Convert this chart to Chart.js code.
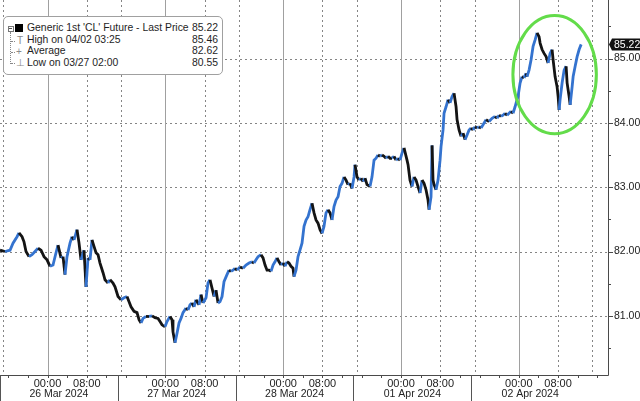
<!DOCTYPE html>
<html lang="en">
<head>
<meta charset="UTF-8">
<title>Generic 1st 'CL' Future - Last Price</title>
<script src="https://cdn.jsdelivr.net/npm/chart.js"></script>
<style>
  body { margin: 0; background: #fff; }
  #wrap { position: relative; width: 640px; height: 401px; }
  #legend {
    position: absolute; left: 3px; top: 16px; width: 218px; height: 57px;
    border: 1px solid #a0a0a0; border-radius: 5px; background: #fff;
    font: 10.4px "Liberation Sans", Arial, sans-serif; color: #1e1e1e;
  }
  .row { position: absolute; left: 23px; right: 4px; height: 12px; line-height: 12px; white-space: nowrap; }
  .row .v { position: absolute; right: 0; top: 0; }
  .ico { position: absolute; color: #8a8a8a; font-size: 10px; line-height: 12px; }
</style>
</head>
<body>
<div id="wrap">
  <canvas id="chart" width="640" height="401"></canvas>
  <div id="legend"></div>
</div>
<script>
// time axis: hours on the trading timeline, 0 = 26 Mar 00:00 (weekend + holiday skipped)
const hours = [
  -9.68, -8.66, -7.64, -7.03, -6.21, -5.81, -5.19, -4.79, -4.38, -3.77,
  -3.16, -2.55, -1.94, -1.32, -0.71, -0.10, 0.51, 1.12, 1.73, 2.14,
  2.75, 3.16, 3.56, 3.97, 4.58, 4.99, 5.40, 6.01, 6.42, 6.82,
  7.44, 7.84, 8.25, 8.66, 9.06, 9.47, 9.88, 10.29, 10.69, 11.31,
  11.71, 12.32, 12.73, 13.34, 13.75, 14.36, 14.97, 15.58, 16.19, 17.01,
  17.62, 18.23, 18.64, 19.05, 19.45, 20.06, 20.68, 21.29, 21.90, 22.51,
  22.92, 23.32, 23.93, 24.34, 24.95, 25.36, 25.56, 25.97, 26.38, 26.79,
  27.19, 27.60, 28.21, 28.62, 29.03, 29.43, 29.84, 30.25, 30.86, 31.27,
  31.67, 32.29, 32.69, 33.10, 33.51, 33.92, 34.32, 34.73, 35.14, 35.55,
  35.95, 36.56, 36.97, 37.38, 37.79, 38.19, 38.60, 39.21, 39.82, 40.43,
  41.05, 41.66, 42.06, 42.47, 42.88, 43.49, 43.90, 44.31, 44.71, 45.12,
  45.53, 45.94, 46.34, 46.75, 47.16, 47.57, 47.97, 48.38, 48.79, 49.19,
  49.60, 50.01, 50.21, 50.62, 51.03, 51.43, 51.84, 52.25, 52.66, 53.06,
  53.47, 53.88, 54.29, 54.69, 55.10, 55.51, 55.92, 56.32, 56.73, 57.14,
  57.55, 57.95, 58.36, 58.77, 59.18, 59.58, 59.99, 60.40, 60.81, 61.21,
  61.62, 62.03, 62.44, 62.64, 63.05, 63.45, 63.86, 64.27, 64.68, 65.08,
  65.69, 66.10, 66.51, 66.92, 67.32, 67.73, 68.14, 68.55, 68.95, 69.36,
  69.77, 70.17, 70.58, 70.99, 71.40, 71.80, 72.21, 72.62, 72.82, 73.23,
  73.44, 73.84, 74.25, 74.66, 75.07, 75.47, 75.88, 76.29, 76.70, 77.10,
  77.51, 77.72, 78.12, 78.33, 78.53, 78.74, 79.14, 79.55, 79.96, 80.16,
  80.57, 80.77, 81.18, 81.59, 81.99, 82.40, 82.81, 83.22, 83.42, 83.83,
  84.24, 84.65, 85.05, 85.46, 85.87, 86.27, 86.68, 87.09, 87.50, 87.90,
  88.31, 88.72, 89.33, 89.94, 90.55, 91.16, 91.57, 91.98, 92.38, 92.79,
  93.20, 93.61, 94.01, 94.42, 94.83, 95.24, 95.64, 95.85, 96.26, 96.66,
  97.07, 97.48, 97.68, 98.09, 98.50, 98.91, 99.32, 99.72, 100.13, 100.34,
  100.74, 101.15, 101.56, 101.97, 102.37, 102.78, 102.99, 103.39, 103.80, 104.01,
  104.21, 104.41, 104.82, 105.23, 105.64, 105.84, 106.25, 106.46, 106.86, 107.07,
  107.48, 107.88, 108.29, 108.70
];
const prices = [
  82.02, 82.00, 82.02, 82.13, 82.23, 82.29, 82.23, 82.15, 82.00, 81.92,
  81.95, 82.00, 82.05, 82.02, 81.92, 81.87, 81.77, 81.79, 81.98, 82.10,
  81.90, 81.92, 81.64, 81.92, 82.13, 82.23, 82.18, 82.34, 82.13, 81.87,
  82.02, 81.45, 81.90, 81.87, 82.18, 82.08, 81.98, 81.95, 81.82, 81.67,
  81.56, 81.51, 81.56, 81.51, 81.45, 81.30, 81.25, 81.28, 81.30, 81.14,
  81.07, 81.05, 80.94, 80.89, 80.96, 80.99, 80.99, 81.00, 80.97, 80.96,
  80.91, 80.86, 80.83, 80.91, 80.99, 80.94, 80.75, 80.58, 80.73, 80.89,
  80.96, 81.05, 81.12, 81.09, 81.17, 81.20, 81.14, 81.25, 81.17, 81.33,
  81.20, 81.28, 81.51, 81.56, 81.43, 81.30, 81.40, 81.20, 81.22, 81.30,
  81.53, 81.64, 81.71, 81.69, 81.71, 81.74, 81.71, 81.76, 81.74, 81.79,
  81.82, 81.84, 81.82, 81.87, 81.92, 81.95, 81.90, 81.79, 81.71, 81.71,
  81.69, 81.79, 81.84, 81.90, 81.84, 81.79, 81.82, 81.77, 81.84, 81.82,
  81.77, 81.74, 81.61, 81.71, 81.92, 82.02, 82.13, 82.39, 82.49, 82.54,
  82.65, 82.75, 82.60, 82.49, 82.44, 82.34, 82.28, 82.39, 82.60, 82.65,
  82.60, 82.49, 82.70, 82.80, 82.85, 83.01, 83.06, 83.16, 83.11, 83.04,
  83.06, 82.98, 83.16, 83.35, 83.16, 83.11, 83.14, 83.09, 83.14, 83.04,
  83.01, 83.16, 83.42, 83.45, 83.50, 83.48, 83.50, 83.48, 83.45, 83.48,
  83.45, 83.45, 83.48, 83.42, 83.45, 83.42, 83.53, 83.61, 83.55, 83.42,
  83.35, 83.11, 83.01, 83.16, 83.11, 83.01, 82.91, 83.11, 83.06, 82.96,
  82.80, 82.65, 82.85, 83.65, 83.11, 83.04, 82.96, 83.11, 83.42, 83.63,
  83.89, 84.15, 84.25, 84.36, 84.31, 84.41, 84.46, 84.25, 84.05, 83.89,
  83.79, 83.84, 83.74, 83.81, 83.89, 83.92, 83.89, 83.94, 83.92, 83.94,
  83.92, 83.97, 84.05, 84.02, 84.07, 84.10, 84.07, 84.12, 84.10, 84.12,
  84.15, 84.12, 84.15, 84.18, 84.15, 84.25, 84.36, 84.41, 84.62, 84.72,
  84.70, 84.77, 84.72, 84.82, 84.98, 85.19, 85.29, 85.40, 85.34, 85.24,
  85.14, 85.08, 85.03, 84.93, 85.08, 85.14, 84.98, 84.72, 84.56, 84.41,
  84.20, 84.36, 84.62, 84.82, 84.88, 84.62, 84.41, 84.28, 84.56, 84.72,
  84.88, 85.03, 85.14, 85.22
];

const dayStarts = [0, 24, 48, 72, 96];           // 00:00 of each trading day
const dayLabels = ['26 Mar 2024', '27 Mar 2024', '28 Mar 2024', '01 Apr 2024', '02 Apr 2024'];
const sessionBreaks = [-9.68, 14.32, 38.32, 62.32, 86.32, 110.32];
const yTicks = [81, 82, 83, 84, 85];
const lastPrice = 85.22;

const legendLabels = ["Generic 1st 'CL' Future - Last Price", 'High on 04/02 03:25', 'Average', 'Low on 03/27 02:00'];
const legendValues = ['85.22', '85.46', '82.62', '80.55'];

// highlight ellipse, in data units: centre hour, centre price, half-width (h), half-height (price)
const circleSpot = [103.3, 84.75, 8.5, 0.92];

const FONT = '"Liberation Sans", Arial, sans-serif';
const upColor = '#3473cf';
const downColor = '#141414';

// legend (html)
const legend = document.getElementById('legend');
let html = '';
legendLabels.forEach((t, i) => {
  html += `<div class="row" style="top:${5 + i * 11.7}px"><span>${t}</span><span class="v">${legendValues[i]}</span></div>`;
});
html += '<div style="position:absolute;left:4px;top:9px;width:4px;height:4px;border:1px solid #777"></div>';
html += '<div style="position:absolute;left:5px;top:11px;width:3px;height:1px;background:#555"></div>';
html += '<div style="position:absolute;left:11px;top:7px;width:8px;height:8px;background:#000"></div>';
html += '<div style="position:absolute;left:6px;top:15px;height:32px;border-left:1px dotted #888"></div>';
[23.7, 35.3, 46.3].forEach(c => {
  html += `<div style="position:absolute;left:7px;top:${c}px;width:4px;border-top:1px dotted #888"></div>`;
});
html += '<span class="ico" style="left:13px;top:17.7px">T</span>';
html += '<span class="ico" style="left:12px;top:29.3px">+</span>';
html += '<span class="ico" style="left:12px;top:40.3px">&#8869;</span>';
legend.innerHTML = html;

const bbg = {
  id: 'bbg',
  beforeDatasetsDraw(chart) {
    const { ctx, chartArea: a, scales: { x, y } } = chart;
    ctx.save();
    ctx.lineWidth = 1;
    // dotted price grid
    ctx.strokeStyle = '#858585';
    ctx.setLineDash([2, 3]);
    yTicks.forEach(v => {
      const py = Math.round(y.getPixelForValue(v)) + 0.5;
      ctx.beginPath(); ctx.moveTo(a.left, py); ctx.lineTo(a.right, py); ctx.stroke();
    });
    // dotted time grid at 08:00 and 15:00
    const minor = [-9];
    dayStarts.forEach(d => minor.push(d + 8, d + 15));
    minor.forEach(h => {
      const px = Math.round(x.getPixelForValue(h)) + 0.5;
      if (px < a.left || px > a.right) return;
      ctx.beginPath(); ctx.moveTo(px, a.top); ctx.lineTo(px, a.bottom); ctx.stroke();
    });
    // solid midnight lines
    ctx.setLineDash([]);
    ctx.strokeStyle = '#a0a0a0';
    dayStarts.forEach(h => {
      const px = Math.round(x.getPixelForValue(h)) + 0.5;
      ctx.beginPath(); ctx.moveTo(px, a.top); ctx.lineTo(px, a.bottom); ctx.stroke();
    });
    ctx.restore();
  },
  afterDatasetsDraw(chart) {
    const { ctx, chartArea: a, scales: { x, y } } = chart;
    ctx.save();
    // green highlight
    const [ch, cp, rh, rp] = circleSpot;
    const cx = x.getPixelForValue(ch), cy = y.getPixelForValue(cp);
    const rx = x.getPixelForValue(ch + rh) - cx, ry = cy - y.getPixelForValue(cp + rp);
    ctx.strokeStyle = '#63dc4a';
    ctx.lineWidth = 3;
    ctx.beginPath(); ctx.ellipse(cx, cy, rx, ry, 0, 0, Math.PI * 2); ctx.stroke();

    // axis lines
    ctx.strokeStyle = '#4a4a4a';
    ctx.lineWidth = 1;
    ctx.beginPath();
    ctx.moveTo(a.left, a.bottom + 0.5); ctx.lineTo(a.right + 0.5, a.bottom + 0.5);
    ctx.moveTo(a.right + 0.5, a.top); ctx.lineTo(a.right + 0.5, a.bottom + 0.5);
    ctx.stroke();

    // price ticks on the right
    ctx.beginPath();
    for (let v = 80.5; v <= 85.5; v += 0.5) {
      const py = Math.round(y.getPixelForValue(v)) + 0.5;
      ctx.moveTo(a.right, py); ctx.lineTo(a.right + (Number.isInteger(v) ? 5 : 3), py);
    }
    // small time ticks every 4h
    for (let h = -8; h <= 112; h += 4) {
      const px = Math.round(x.getPixelForValue(h)) + 0.5;
      if (px > a.right) break;
      ctx.moveTo(px, a.bottom); ctx.lineTo(px, a.bottom + 3);
    }
    ctx.stroke();

    // session separators + date labels
    ctx.strokeStyle = '#555';
    ctx.beginPath();
    sessionBreaks.slice(0, -1).forEach(h => {
      const px = Math.round(x.getPixelForValue(h)) + 0.5;
      ctx.moveTo(px, a.bottom); ctx.lineTo(px, chart.height);
    });
    ctx.stroke();
    ctx.fillStyle = '#222';
    ctx.font = `10.5px ${FONT}`;
    ctx.textAlign = 'center';
    ctx.textBaseline = 'middle';
    dayLabels.forEach((t, i) => {
      const mid = (x.getPixelForValue(sessionBreaks[i]) + x.getPixelForValue(sessionBreaks[i + 1])) / 2;
      ctx.fillText(t, mid, 394.5);
    });

    // last price tag
    const ly = y.getPixelForValue(lastPrice);
    const bx = a.right + 4, bw = chart.width - bx, bh = 12;
    ctx.fillStyle = '#111';
    ctx.beginPath();
    ctx.moveTo(a.right + 1, ly);
    ctx.lineTo(bx, ly - bh / 2);
    ctx.lineTo(bx + bw, ly - bh / 2);
    ctx.lineTo(bx + bw, ly + bh / 2);
    ctx.lineTo(bx, ly + bh / 2);
    ctx.closePath();
    ctx.fill();
    ctx.fillStyle = '#fff';
    ctx.textAlign = 'left';
    ctx.font = `10.5px ${FONT}`;
    ctx.fillText(lastPrice.toFixed(2), bx + 2, ly + 0.5);
    ctx.restore();
  }
};

new Chart(document.getElementById('chart'), {
  type: 'line',
  data: {
    datasets: [{
      data: hours.map((h, i) => ({ x: h, y: prices[i] })),
      borderColor: downColor,
      borderWidth: 2.8,
      pointRadius: 0,
      tension: 0,
      segment: {
        borderColor: c => c.p1.parsed.y > c.p0.parsed.y ? upColor : downColor
      }
    }]
  },
  options: {
    responsive: false,
    animation: false,
    layout: { padding: 0 },
    plugins: { legend: { display: false }, tooltip: { enabled: false } },
    scales: {
      x: {
        type: 'linear',
        min: -9.68,
        max: 114.17,
        grid: { display: false, drawTicks: false },
        border: { display: false },
        afterBuildTicks: s => {
          const t = [];
          dayStarts.forEach(d => t.push({ value: d }, { value: d + 8 }));
          s.ticks = t;
        },
        afterFit: s => { s.height = 26; s.paddingLeft = 0; s.paddingRight = 0; },
        ticks: {
          autoSkip: false, maxRotation: 0, padding: 2,
          color: '#222', font: { family: FONT, size: 11 },
          callback: v => (((v % 24) + 24) % 24 === 8 ? '08:00' : '00:00')
        }
      },
      y: {
        position: 'right',
        min: 80.08,
        max: 85.91,
        grid: { display: false, drawTicks: false },
        border: { display: false },
        afterBuildTicks: s => { s.ticks = yTicks.map(v => ({ value: v })); },
        afterFit: s => { s.width = 32; s.paddingTop = 0; s.paddingBottom = 0; },
        ticks: {
          padding: 6, color: '#222', font: { family: FONT, size: 10.5 },
          callback: v => v.toFixed(2)
        }
      }
    }
  },
  plugins: [bbg]
});
</script>
</body>
</html>
